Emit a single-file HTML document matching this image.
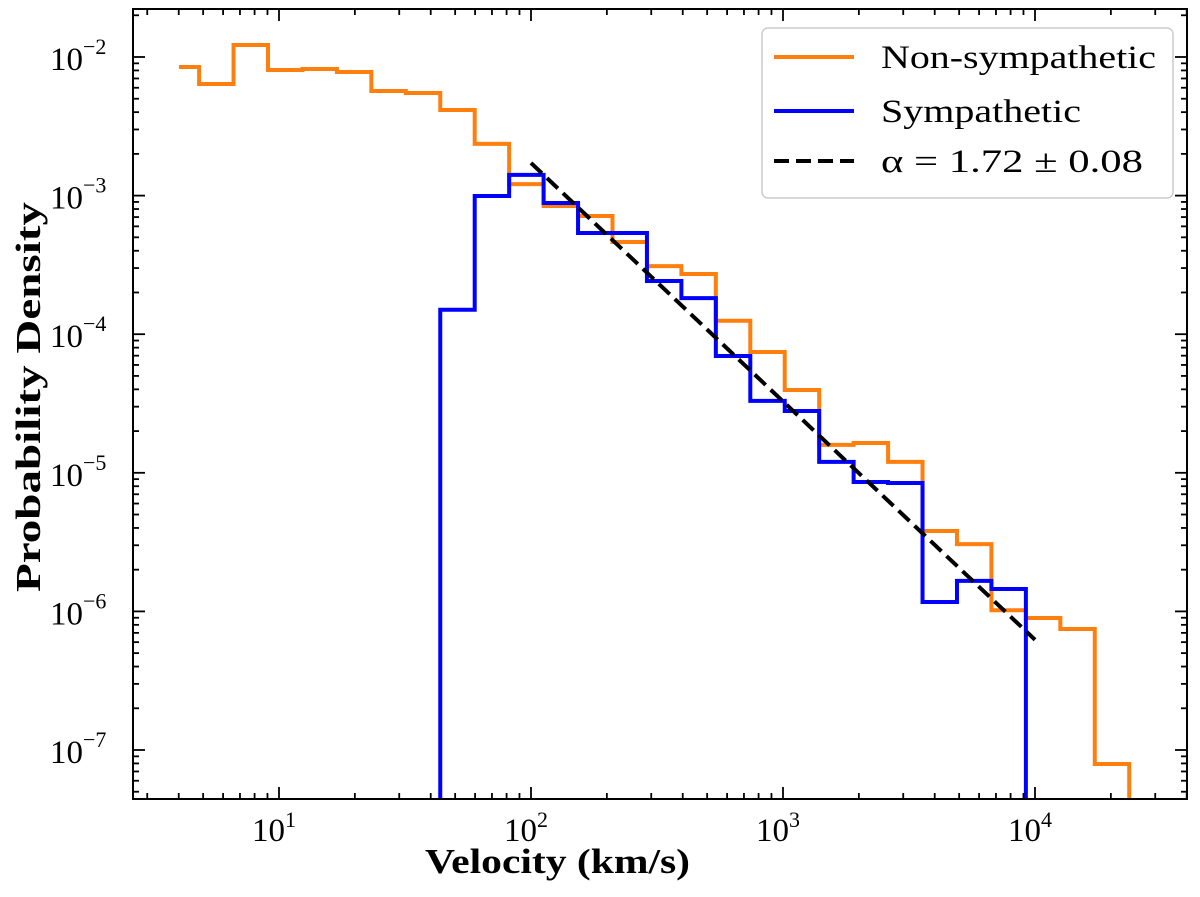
<!DOCTYPE html>
<html><head><meta charset="utf-8"><style>
html,body{margin:0;padding:0;background:#fff;}
svg{display:block;font-family:"Liberation Serif",serif;}
</style></head><body>
<svg id="chart" width="1200" height="897">
<rect x="0" y="0" width="1200" height="897" fill="#fff"/>
<g id="marks"></g>
<g id="axes"></g>
</svg>
<script>
// ---- data ----
const binLogStart = 0.603;      // first bin edge (log10 km/s)
const binLogFirstWidth = 0.080; // first (partial) bin width in decades
const binLogWidth = 0.1367;     // regular bin width in decades
const nonSympathetic = [8.47e-3,6.39e-3,1.22e-2,8.05e-3,8.19e-3,7.79e-3,5.69e-3,5.50e-3,4.15e-3,2.36e-3,1.21e-3,8.41e-4,7.13e-4,4.63e-4,3.10e-4,2.72e-4,1.25e-4,7.44e-5,3.96e-5,1.59e-5,1.64e-5,1.20e-5,3.80e-6,3.06e-6,1.02e-6,8.96e-7,7.46e-7,7.92e-8];
const sympatheticStartBin = 8;
const sympathetic = [1.50e-4,9.93e-4,1.41e-3,8.85e-4,5.37e-4,5.37e-4,2.42e-4,1.82e-4,6.96e-5,3.30e-5,2.79e-5,1.20e-5,8.59e-6,8.44e-6,1.17e-6,1.66e-6,1.45e-6];
const fitRange = [100, 10000];
const fitAmp = 1.72e-3;   // value at 100 km/s
const fitAlpha = 1.72;
const xTickExps = [1,2,3,4];
const yTickExps = [-2,-3,-4,-5,-6,-7];
const legendLabels = ["Non-sympathetic","Sympathetic","\u03b1 = 1.72 \u00b1 0.08"];

// ---- axes ----
const L=133,R=1187,T=9,B=799;
const X0=279, XD=252, Y0=57, YD=138.6;
function xs(v){return X0+(Math.log10(v)-1)*XD;}
function xl(lg){return X0+(lg-1)*XD;}
function ys(v){return Y0+(-2-Math.log10(v))*YD;}
const NS="http://www.w3.org/2000/svg";
function mk(tag,attrs,parent){const e=document.createElementNS(NS,tag);for(const k in attrs)e.setAttribute(k,attrs[k]);parent.appendChild(e);return e;}
const marks=document.getElementById('marks'), axes=document.getElementById('axes');

function edges(n){const e=[binLogStart,binLogStart+binLogFirstWidth];for(let i=2;i<=n;i++)e.push(e[1]+(i-1)*binLogWidth);return e;}
const E=edges(nonSympathetic.length+1);

function stepPath(vals,start){
  let d='';
  const x0=xl(E[start]);
  d+='M'+x0+','+(start===0?ys(vals[0]):B);
  for(let i=0;i<vals.length;i++){
    const a=xl(E[start+i]),b=xl(E[start+i+1]),y=ys(vals[i]);
    d+=' L'+a+','+y+' L'+b+','+y;
  }
  d+=' L'+xl(E[start+vals.length])+','+B;
  return d;
}
const clip=mk('clipPath',{id:'pc'},marks);mk('rect',{x:L,y:T,width:R-L,height:B-T},clip);
const g=mk('g',{'clip-path':'url(#pc)'},marks);
const po=mk('path',{d:stepPath(nonSympathetic,0),fill:'none',stroke:'#ff7f0e','stroke-width':4,'stroke-linejoin':'miter'},g);


const pb=mk('path',{d:stepPath(sympathetic,sympatheticStartBin),fill:'none',stroke:'#0000ff','stroke-width':4},g);


const fy=v=>fitAmp*Math.pow(v/100,-fitAlpha);
const fl=mk('line',{x1:xs(fitRange[0]),y1:ys(fy(fitRange[0])),x2:xs(fitRange[1]),y2:ys(fy(fitRange[1])),stroke:'#000','stroke-width':4,'stroke-dasharray':'15,7'},g);



// frame
const fr=mk('rect',{x:L,y:T,width:R-L,height:B-T,fill:'none',stroke:'#000','stroke-width':2},axes);


// x ticks
for(let p=0;p<=4;p++){for(let m=1;m<10;m++){const v=m*Math.pow(10,p);const x=xs(v);if(x<L||x>R)continue;const len=m===1?12:6;
 mk('line',{x1:x,y1:B,x2:x,y2:B-len,stroke:'#000','stroke-width':1.8},axes);
 mk('line',{x1:x,y1:T,x2:x,y2:T+len,stroke:'#000','stroke-width':1.8},axes);}}
for(const e of xTickExps){const t=mk('text',{x:xs(Math.pow(10,e))-5,y:B+42,'font-size':33,'text-anchor':'middle'},axes);t.textContent='10';
 
 
 const s=mk('tspan',{'font-size':22,dy:-14},t);s.textContent=String(e);}
// y ticks
for(let p=-8;p<=-2;p++){for(let m=1;m<10;m++){const v=m*Math.pow(10,p);const y=ys(v);if(y<T||y>B)continue;const len=m===1?12:6;
 mk('line',{x1:L,y1:y,x2:L+len,y2:y,stroke:'#000','stroke-width':1.8},axes);
 mk('line',{x1:R,y1:y,x2:R-len,y2:y,stroke:'#000','stroke-width':1.8},axes);}}
for(const e of yTickExps){const y=ys(Math.pow(10,e));const t=mk('text',{x:50,y:y+13,'font-size':33},axes);t.textContent='10';
 
 
 const s=mk('tspan',{'font-size':22,dy:-16},t);s.textContent='\u2212'+String(-e);}
// titles
const xt=mk('text',{x:425,y:873,'font-size':35,'font-weight':'bold',textLength:265,lengthAdjust:'spacingAndGlyphs'},axes);xt.textContent='Velocity (km/s)';


const yt=mk('text',{x:0,y:0,'font-size':35,'font-weight':'bold',textLength:390,lengthAdjust:'spacingAndGlyphs',transform:'translate(40,592) rotate(-90)'},axes);yt.textContent='Probability Density';


// legend
const lg=mk('g',{},axes);


mk('rect',{x:762,y:28,width:411,height:170,rx:6,fill:'#fff',stroke:'#ccc','stroke-width':1.5},lg);
const lcol=['#ff7f0e','#0000ff','#000'];const lrow=[57,111,161];const lw=[275,200,262];
for(let i=0;i<3;i++){
 const ln=mk('line',{x1:774,y1:lrow[i],x2:854,y2:lrow[i],stroke:lcol[i],'stroke-width':4},lg);
 if(i===2)ln.setAttribute('stroke-dasharray','15,7');
 
 
 const t=mk('text',{x:881,y:lrow[i]+11,'font-size':33,textLength:lw[i],lengthAdjust:'spacingAndGlyphs'},lg);t.textContent=legendLabels[i];
 
 
}
</script>
</body></html>
